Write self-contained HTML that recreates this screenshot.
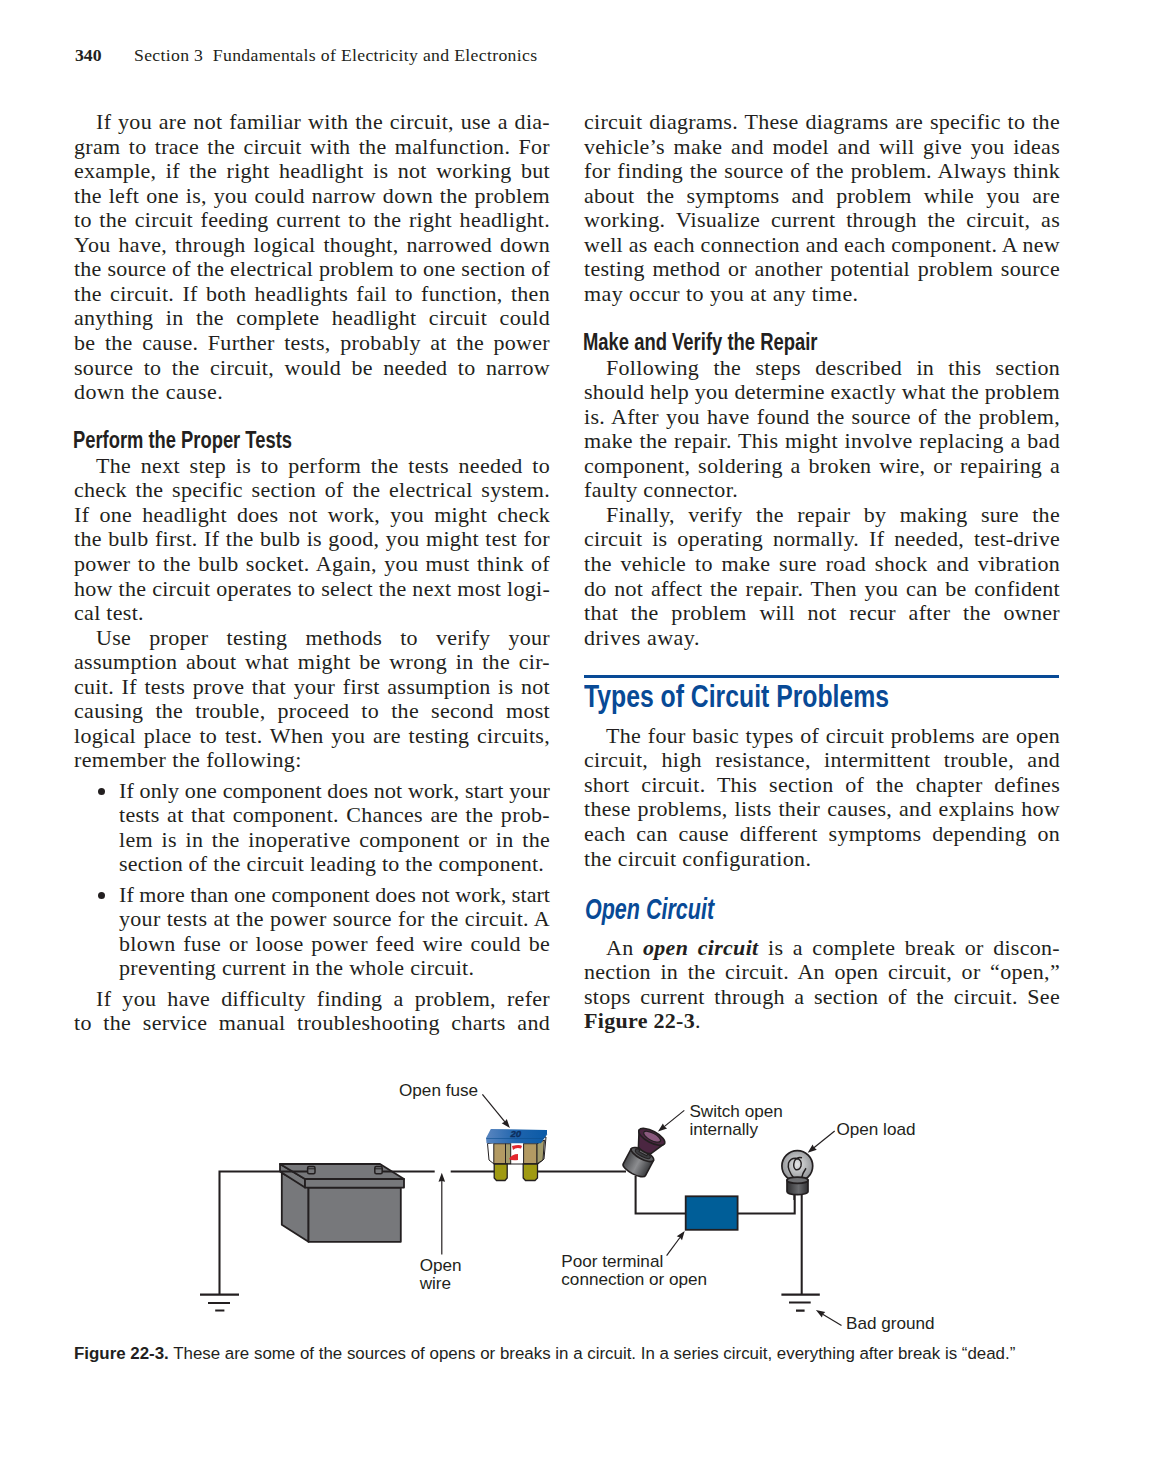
<!DOCTYPE html>
<html><head><meta charset="utf-8">
<style>
html,body{margin:0;padding:0;background:#fff;}
body{width:1156px;height:1479px;position:relative;overflow:hidden;color:#231f20;}
.l{position:absolute;font-family:"Liberation Serif",serif;font-size:22px;line-height:24px;height:24px;letter-spacing:0.3px;text-align:justify;text-align-last:justify;white-space:nowrap;}
.l.z{text-align:left;text-align-last:left;}
.dot{position:absolute;width:7px;height:7px;border-radius:50%;background:#231f20;}
.hd{position:absolute;font-family:"Liberation Sans",sans-serif;font-weight:bold;font-size:23px;line-height:24px;white-space:nowrap;transform-origin:0 0;}
.blue{color:#084a96;}
.rule{position:absolute;left:583.5px;top:674.7px;width:475.5px;height:3.6px;background:#084a96;}
.hdr{position:absolute;font-family:"Liberation Serif",serif;font-size:17.7px;line-height:20px;white-space:nowrap;}
.lab{position:absolute;font-family:"Liberation Sans",sans-serif;font-size:16.7px;line-height:18.5px;white-space:nowrap;}
.cap{position:absolute;font-family:"Liberation Sans",sans-serif;font-size:16.9px;line-height:20px;white-space:nowrap;}
</style></head><body>

<div class="hdr" style="left:75px;top:45.3px;font-weight:bold">340</div>
<div class="hdr" style="left:134px;top:45.3px;letter-spacing:0.33px;white-space:pre">Section 3  Fundamentals of Electricity and Electronics</div>

<div class="l" style="left:96.0px;top:110.05px;width:454.0px">If you are not familiar with the circuit, use a dia-</div>
<div class="l" style="left:74.0px;top:134.60px;width:476.0px">gram to trace the circuit with the malfunction. For</div>
<div class="l" style="left:74.0px;top:159.15px;width:476.0px">example, if the right headlight is not working but</div>
<div class="l" style="left:74.0px;top:183.70px;width:476.0px">the left one is, you could narrow down the problem</div>
<div class="l" style="left:74.0px;top:208.25px;width:476.0px">to the circuit feeding current to the right headlight.</div>
<div class="l" style="left:74.0px;top:232.80px;width:476.0px">You have, through logical thought, narrowed down</div>
<div class="l" style="left:74.0px;top:257.35px;width:476.0px;letter-spacing:0.251px">the source of the electrical problem to one section of</div>
<div class="l" style="left:74.0px;top:281.90px;width:476.0px">the circuit. If both headlights fail to function, then</div>
<div class="l" style="left:74.0px;top:306.45px;width:476.0px">anything in the complete headlight circuit could</div>
<div class="l" style="left:74.0px;top:331.00px;width:476.0px">be the cause. Further tests, probably at the power</div>
<div class="l" style="left:74.0px;top:355.55px;width:476.0px">source to the circuit, would be needed to narrow</div>
<div class="l z" style="left:74.0px;top:380.10px;width:476.0px;letter-spacing:0.550px">down the cause.</div>
<div class="l" style="left:96.0px;top:453.75px;width:454.0px">The next step is to perform the tests needed to</div>
<div class="l" style="left:74.0px;top:478.30px;width:476.0px">check the specific section of the electrical system.</div>
<div class="l" style="left:74.0px;top:502.85px;width:476.0px">If one headlight does not work, you might check</div>
<div class="l" style="left:74.0px;top:527.40px;width:476.0px">the bulb first. If the bulb is good, you might test for</div>
<div class="l" style="left:74.0px;top:551.95px;width:476.0px">power to the bulb socket. Again, you must think of</div>
<div class="l" style="left:74.0px;top:576.50px;width:476.0px;letter-spacing:0.296px">how the circuit operates to select the next most logi-</div>
<div class="l z" style="left:74.0px;top:601.05px;width:476.0px">cal test.</div>
<div class="l" style="left:96.0px;top:625.60px;width:454.0px">Use proper testing methods to verify your</div>
<div class="l" style="left:74.0px;top:650.15px;width:476.0px">assumption about what might be wrong in the cir-</div>
<div class="l" style="left:74.0px;top:674.70px;width:476.0px">cuit. If tests prove that your first assumption is not</div>
<div class="l" style="left:74.0px;top:699.25px;width:476.0px">causing the trouble, proceed to the second most</div>
<div class="l" style="left:74.0px;top:723.80px;width:476.0px">logical place to test. When you are testing circuits,</div>
<div class="l z" style="left:74.0px;top:748.35px;width:476.0px;letter-spacing:0.391px">remember the following:</div>
<div class="l" style="left:119.0px;top:778.85px;width:431.0px;letter-spacing:0.135px">If only one component does not work, start your</div>
<div class="l" style="left:119.0px;top:803.32px;width:431.0px">tests at that component. Chances are the prob-</div>
<div class="l" style="left:119.0px;top:827.79px;width:431.0px">lem is in the inoperative component or in the</div>
<div class="l z" style="left:119.0px;top:852.26px;width:431.0px;letter-spacing:0.226px">section of the circuit leading to the component.</div>
<div class="l" style="left:119.0px;top:882.75px;width:431.0px;letter-spacing:0.058px">If more than one component does not work, start</div>
<div class="l" style="left:119.0px;top:907.22px;width:431.0px">your tests at the power source for the circuit. A</div>
<div class="l" style="left:119.0px;top:931.69px;width:431.0px">blown fuse or loose power feed wire could be</div>
<div class="l z" style="left:119.0px;top:956.16px;width:431.0px">preventing current in the whole circuit.</div>
<div class="l" style="left:96.0px;top:986.75px;width:454.0px">If you have difficulty finding a problem, refer</div>
<div class="l" style="left:74.0px;top:1011.25px;width:476.0px">to the service manual troubleshooting charts and</div>
<div class="l" style="left:584.0px;top:110.05px;width:476.0px">circuit diagrams. These diagrams are specific to the</div>
<div class="l" style="left:584.0px;top:134.60px;width:476.0px">vehicle’s make and model and will give you ideas</div>
<div class="l" style="left:584.0px;top:159.15px;width:476.0px">for finding the source of the problem. Always think</div>
<div class="l" style="left:584.0px;top:183.70px;width:476.0px">about the symptoms and problem while you are</div>
<div class="l" style="left:584.0px;top:208.25px;width:476.0px">working. Visualize current through the circuit, as</div>
<div class="l" style="left:584.0px;top:232.80px;width:476.0px;letter-spacing:0.277px">well as each connection and each component. A new</div>
<div class="l" style="left:584.0px;top:257.35px;width:476.0px">testing method or another potential problem source</div>
<div class="l z" style="left:584.0px;top:281.90px;width:476.0px;letter-spacing:0.429px">may occur to you at any time.</div>
<div class="l" style="left:606.0px;top:355.55px;width:454.0px">Following the steps described in this section</div>
<div class="l" style="left:584.0px;top:380.10px;width:476.0px;letter-spacing:0.270px">should help you determine exactly what the problem</div>
<div class="l" style="left:584.0px;top:404.65px;width:476.0px">is. After you have found the source of the problem,</div>
<div class="l" style="left:584.0px;top:429.20px;width:476.0px">make the repair. This might involve replacing a bad</div>
<div class="l" style="left:584.0px;top:453.75px;width:476.0px">component, soldering a broken wire, or repairing a</div>
<div class="l z" style="left:584.0px;top:478.30px;width:476.0px;letter-spacing:0.362px">faulty connector.</div>
<div class="l" style="left:606.0px;top:502.85px;width:454.0px">Finally, verify the repair by making sure the</div>
<div class="l" style="left:584.0px;top:527.40px;width:476.0px">circuit is operating normally. If needed, test-drive</div>
<div class="l" style="left:584.0px;top:551.95px;width:476.0px">the vehicle to make sure road shock and vibration</div>
<div class="l" style="left:584.0px;top:576.50px;width:476.0px">do not affect the repair. Then you can be confident</div>
<div class="l" style="left:584.0px;top:601.05px;width:476.0px">that the problem will not recur after the owner</div>
<div class="l z" style="left:584.0px;top:625.60px;width:476.0px;letter-spacing:0.518px">drives away.</div>
<div class="l" style="left:606.0px;top:723.80px;width:454.0px">The four basic types of circuit problems are open</div>
<div class="l" style="left:584.0px;top:748.35px;width:476.0px">circuit, high resistance, intermittent trouble, and</div>
<div class="l" style="left:584.0px;top:772.90px;width:476.0px">short circuit. This section of the chapter defines</div>
<div class="l" style="left:584.0px;top:797.45px;width:476.0px">these problems, lists their causes, and explains how</div>
<div class="l" style="left:584.0px;top:822.00px;width:476.0px">each can cause different symptoms depending on</div>
<div class="l z" style="left:584.0px;top:846.55px;width:476.0px;letter-spacing:0.352px">the circuit configuration.</div>
<div class="l" style="left:606.0px;top:935.85px;width:454.0px">An <b><i>open circuit</i></b> is a complete break or discon-</div>
<div class="l" style="left:584.0px;top:960.35px;width:476.0px">nection in the circuit. An open circuit, or “open,”</div>
<div class="l" style="left:584.0px;top:984.85px;width:476.0px">stops current through a section of the circuit. See</div>
<div class="l z" style="left:584.0px;top:1009.35px;width:476.0px"><b>Figure 22-3</b>.</div>
<div class="dot" style="left:97.5px;top:788.2px"></div>
<div class="dot" style="left:97.5px;top:892.1px"></div>

<div class="hd" style="left:73px;top:427.93px;transform:scaleX(0.798)">Perform the Proper Tests</div>
<div class="hd" style="left:583px;top:329.93px;transform:scaleX(0.801)">Make and Verify the Repair</div>
<div class="rule"></div>
<div class="hd blue" style="left:583.5px;top:684.19px;font-size:31.5px;transform:scaleX(0.786)">Types of Circuit Problems</div>
<div class="hd blue" style="left:585px;top:897.00px;font-size:30px;font-style:italic;transform:scaleX(0.717)">Open Circuit</div>

<svg style="position:absolute;left:0;top:1060px" width="1156" height="320" viewBox="0 1060 1156 320"><defs>
<linearGradient id="fuseTop" x1="0" y1="0" x2="1" y2="0"><stop offset="0" stop-color="#5a86c0"/><stop offset="0.5" stop-color="#1f64ad"/><stop offset="1" stop-color="#0a5aa6"/></linearGradient>
<linearGradient id="swBody" x1="0" y1="0" x2="1" y2="0"><stop offset="0" stop-color="#4a4b4e"/><stop offset="0.5" stop-color="#8c8d90"/><stop offset="1" stop-color="#3a3b3e"/></linearGradient>
<radialGradient id="glass" cx="0.5" cy="0.45" r="0.55"><stop offset="0" stop-color="#e4e5e6"/><stop offset="1" stop-color="#8e9093"/></radialGradient>
<linearGradient id="base" x1="0" y1="0" x2="1" y2="0"><stop offset="0" stop-color="#2e2e30"/><stop offset="0.55" stop-color="#6b6c6f"/><stop offset="1" stop-color="#303033"/></linearGradient>
</defs><g stroke="#231f20" stroke-width="1.8" stroke-linejoin="round" fill="#77787b"><polygon points="281.8,1173 308.5,1187.6 308.5,1241.8 281.8,1224.7"/><rect x="308.5" y="1187.6" width="92.3" height="54.2"/><polygon points="280,1164 305,1179 305,1187.6 280,1171.4"/><polygon points="280,1164 380,1164 404,1179 305,1179"/><rect x="305" y="1179" width="99" height="8.6"/></g><path stroke="#231f20" stroke-width="2.05" fill="none" d="M219.5,1294.6 V1171.4 H311"/><path stroke="#231f20" stroke-width="2.05" fill="none" d="M378,1171.4 H434.7 M450.7,1171.4 H495 M537,1171.4 H626"/><rect x="307.6" y="1166.5" width="7.4" height="7.2" rx="1.5" fill="#77787b" stroke="#231f20" stroke-width="1.5"/><line x1="307.6" y1="1168.8" x2="315.0" y2="1168.8" stroke="#231f20" stroke-width="1"/><rect x="374.8" y="1166.5" width="7.4" height="7.2" rx="1.5" fill="#77787b" stroke="#231f20" stroke-width="1.5"/><line x1="374.8" y1="1168.8" x2="382.2" y2="1168.8" stroke="#231f20" stroke-width="1"/><path stroke="#231f20" stroke-width="2.05" fill="none" d="M200,1294.6 H239 M208,1302.9 H230 M215.2,1310.5 H224.4"/><path stroke="#231f20" stroke-width="2.05" fill="none" d="M635.6,1176 V1213.4 H685.7 M737.6,1213.4 H794.7 V1193"/><path stroke="#231f20" stroke-width="2.05" fill="none" d="M801.7,1193 V1294.6 M781.4,1294.6 H819.8 M789,1302.4 H810.7 M796,1310.6 H804.6"/><rect x="685.7" y="1196.3" width="51.9" height="33.5" fill="#005e98" stroke="#231f20" stroke-width="1.8"/><g stroke="#231f20" stroke-width="1"><path d="M487.5,1143.5 L489,1160 L494,1164 L538,1164 L544,1159 L546,1137 Z" fill="#fff"/><rect x="493.8" y="1143.7" width="11.7" height="20" fill="#b39a63"/><rect x="505.5" y="1143.7" width="5.2" height="20" fill="#a39c6c"/><rect x="523.6" y="1143.7" width="13.4" height="20" fill="#b39a63"/><path d="M537,1143.7 L544.4,1140 L543,1160 L537,1163.7 Z" fill="#a39c6c"/><path d="M494.2,1164 H507.2 V1178 L505,1180.5 H496.5 L494.2,1178 Z" fill="#a09a12" stroke-width="1.3"/><path d="M523.2,1164 H537.5 V1178 L535,1180.5 H525.5 L523.2,1178 Z" fill="#a09a12" stroke-width="1.3"/></g><path d="M512,1146 Q520,1144 522,1146 L521,1148.5 Q516,1147 513,1150 Z M509,1159 Q512,1154 518,1154 L518,1160 Q512,1161 509,1159 Z" fill="#e3262d"/><path d="M490.8,1129 L547,1130 L547,1134 L541,1143.3 L486.5,1143.3 L486,1138 Z" fill="url(#fuseTop)"/><path d="M486.3,1138.5 L544,1138.5 L547,1134" stroke="#0b4f8f" stroke-width="0.6" fill="none"/><text x="510.5" y="1137.3" font-family="Liberation Sans" font-size="9.6" font-style="italic" font-weight="bold" fill="#0d2f5e" stroke="#0d2f5e" stroke-width="0.35">20</text><g transform="translate(637.8,1163.2) rotate(28)" stroke="#231f20" stroke-width="1.6" stroke-linejoin="round"><path d="M-12.6,-9.8 L-12.6,7.4 A12.6,4.4 0 0 0 12.6,7.4 L12.6,-9.8 Z" fill="url(#swBody)"/><ellipse cx="0" cy="-9.8" rx="12.6" ry="4.4" fill="#5d5e61"/><ellipse cx="0" cy="-10.6" rx="8.4" ry="2.7" fill="#3c3d40" stroke-width="1"/><path d="M-4.4,-10.8 L-4.4,-15.5 L4.4,-15.5 L4.4,-10.8 Z" fill="#6a6b6e" stroke-width="1"/><path d="M-7.6,-15.8 L-14.4,-29.8 L14.4,-29.8 L7.6,-15.8 A7.6,2.8 0 0 1 -7.6,-15.8 Z" fill="#4b2641"/><ellipse cx="0" cy="-29.8" rx="14.4" ry="5.8" fill="#4b2641"/><ellipse cx="0.2" cy="-30.1" rx="9.4" ry="3.7" fill="#8a5a7e" stroke-width="1.2"/></g><g stroke="#231f20" stroke-width="1.7"><line x1="794.2" y1="1190" x2="794.2" y2="1200" stroke-width="1.6"/><circle cx="797.3" cy="1166" r="15.4" fill="url(#glass)"/><path d="M794.2,1178.5 Q787,1170 788.5,1163 Q790.5,1158 796,1158.3 Q802.5,1159.5 801,1166 Q799.5,1170.5 795.5,1169.5 Q792.5,1167 794.5,1161 Q797,1156.5 802,1157.8 M801.5,1178.5 Q802.5,1173 806,1168.2" fill="none" stroke-width="1.45"/><path d="M787,1180.2 L787,1191.5 A10.5,3.2 0 0 0 808,1191.5 L808,1180.2 Z" fill="url(#base)"/><ellipse cx="797.5" cy="1180.2" rx="10.5" ry="3.1" fill="#6e6f72"/></g><line x1="482.4" y1="1094.3" x2="504.9" y2="1121.9" stroke="#231f20" stroke-width="1.2"/><path d="M509.9,1128.1 L501.7,1123.2 L504.7,1121.7 L506.8,1119.0 Z" fill="#231f20"/><line x1="441.8" y1="1254.4" x2="441.8" y2="1180.8" stroke="#231f20" stroke-width="1.2"/><path d="M441.8,1172.8 L445.1,1181.8 L441.8,1181.0 L438.5,1181.8 Z" fill="#231f20"/><line x1="684.3" y1="1110.4" x2="664.2" y2="1126.6" stroke="#231f20" stroke-width="1.2"/><path d="M658.0,1131.6 L662.9,1123.4 L664.4,1126.5 L667.1,1128.5 Z" fill="#231f20"/><line x1="834.7" y1="1131.0" x2="813.9" y2="1147.8" stroke="#231f20" stroke-width="1.2"/><path d="M807.7,1152.8 L812.6,1144.6 L814.1,1147.6 L816.8,1149.7 Z" fill="#231f20"/><line x1="666.6" y1="1255.7" x2="680.0" y2="1237.5" stroke="#231f20" stroke-width="1.2"/><path d="M684.7,1231.0 L682.0,1240.2 L679.9,1237.6 L676.7,1236.3 Z" fill="#231f20"/><line x1="841.5" y1="1325.6" x2="822.7" y2="1314.2" stroke="#231f20" stroke-width="1.2"/><path d="M815.9,1310.0 L825.3,1311.9 L822.9,1314.3 L821.9,1317.5 Z" fill="#231f20"/><text x="399" y="1095.7" font-family="Liberation Sans" font-size="17.15" font-weight="normal" fill="#231f20">Open fuse</text><text x="689.4" y="1117.0" font-family="Liberation Sans" font-size="17.15" font-weight="normal" fill="#231f20">Switch open</text><text x="689.4" y="1135.4" font-family="Liberation Sans" font-size="17.15" font-weight="normal" fill="#231f20">internally</text><text x="836.4" y="1135.4" font-family="Liberation Sans" font-size="17.15" font-weight="normal" fill="#231f20">Open load</text><text x="419.7" y="1270.9" font-family="Liberation Sans" font-size="17.15" font-weight="normal" fill="#231f20">Open</text><text x="419.7" y="1289.1" font-family="Liberation Sans" font-size="17.15" font-weight="normal" fill="#231f20">wire</text><text x="561.3" y="1266.9" font-family="Liberation Sans" font-size="17.15" font-weight="normal" fill="#231f20">Poor terminal</text><text x="561.3" y="1285.1" font-family="Liberation Sans" font-size="17.15" font-weight="normal" fill="#231f20">connection or open</text><text x="846" y="1328.5" font-family="Liberation Sans" font-size="17.15" font-weight="normal" fill="#231f20">Bad ground</text><text x="74" y="1359" font-family="Liberation Sans" font-size="16.9" fill="#231f20"><tspan font-weight="bold">Figure 22-3.</tspan> These are some of the sources of opens or breaks in a circuit. In a series circuit, everything after break is “dead.”</text></svg>
</body></html>
